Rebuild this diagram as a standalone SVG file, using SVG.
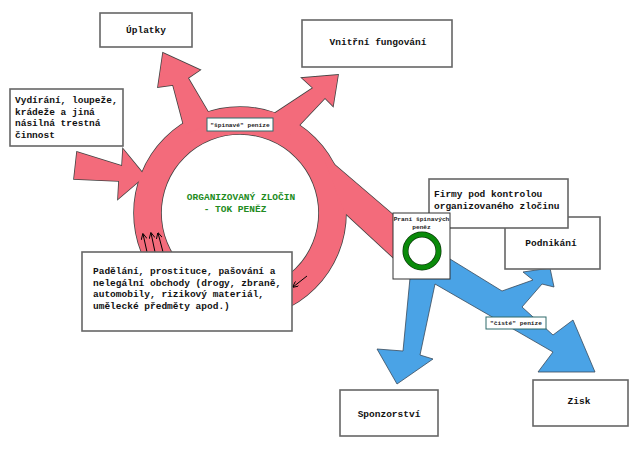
<svg xmlns="http://www.w3.org/2000/svg" xmlns:xlink="http://www.w3.org/1999/xlink" width="640" height="454" viewBox="0 0 640 454">
<style>
.bx{fill:#fff;stroke:#666;stroke-width:1.6}
.t{font-family:"Liberation Mono","DejaVu Sans Mono",monospace;font-weight:bold;font-size:9.5px;fill:#111}
.ts{font-family:"Liberation Mono","DejaVu Sans Mono",monospace;font-weight:bold;font-size:6.2px;fill:#222}
.tg{font-family:"Liberation Mono","DejaVu Sans Mono",monospace;font-weight:bold;font-size:9.5px;fill:#228b22}
.lb{fill:#fff;stroke:#2e6b6b;stroke-width:1}
.edge{stroke:#444;stroke-width:1.6}
.red{fill:#f36b7b}
.blue{fill:#4aa3e6;stroke:#3a4a5a;stroke-width:0.8}
.sa{stroke:#000;stroke-width:1;fill:none;marker-end:url(#ah)}
</style>
<defs>
<marker id="ah" viewBox="0 0 10 10" refX="9" refY="5" markerWidth="6" markerHeight="6" orient="auto-start-reverse" markerUnits="userSpaceOnUse">
<path d="M0,0 L10,5 L0,10" fill="none" stroke="#000" stroke-width="1.5"/>
</marker>
<path id="ring" fill-rule="evenodd" d="M134,213 a106,106 0 1,0 212,0 a106,106 0 1,0 -212,0 Z M161,213 a79,79 0 1,1 158,0 a79,79 0 1,1 -158,0 Z"/>
<polygon id="aUpl" points="186,134 173,85 158,87 163,53 200,70 188,78 214,122"/>
<polygon id="aVni" points="266,119 313,88 302,78 338,75 333,106 325,98 290,135"/>
<polygon id="aVyd" points="77,152 122,166 123,149 145,176 118,199 119,181 74,179"/>
<polygon id="aBand" points="322,154 398,219 398,262 345,213"/>
</defs>
<g id="connectors">
<g id="red-flow">
<use xlink:href="#ring" class="edge" fill="#444"/>
<use xlink:href="#aUpl" class="edge" fill="#444"/>
<use xlink:href="#aVni" class="edge" fill="#444"/>
<use xlink:href="#aVyd" class="edge" fill="#444"/>
<use xlink:href="#aBand" class="edge" fill="#444"/>
<use xlink:href="#ring" class="red"/>
<use xlink:href="#aUpl" class="red"/>
<use xlink:href="#aVni" class="red"/>
<use xlink:href="#aVyd" class="red"/>
<use xlink:href="#aBand" class="red"/>
</g>
<polygon id="blue-flow" class="blue" points="440,250 450,259 502,291 533,280 523,272 550,268 554,287 542,284 522,307 553,335 573,320 595,372 538,372 553,352 435,284 420,355 433,359 397,384 377,349 403,351 410,278 415,250"/>
<line class="sa" x1="147" y1="252" x2="143" y2="234"/>
<line class="sa" x1="155" y1="252" x2="151" y2="233"/>
<line class="sa" x1="163" y1="252" x2="158" y2="233"/>
<line class="sa" x1="307" y1="276" x2="293" y2="287"/>
</g>
<g id="label-spinave">
<rect class="lb" x="207" y="118" width="66" height="13"/>
<text class="ts" x="240" y="126.7" text-anchor="middle">"špinavé" peníze</text>
</g>
<g id="label-ciste">
<rect class="lb" x="486" y="317" width="60" height="12"/>
<text class="ts" x="516" y="325.3" text-anchor="middle">"čisté" peníze</text>
</g>
<g id="center-title">
<text class="tg" x="241" y="200" text-anchor="middle">ORGANIZOVANÝ ZLOČIN</text>
<text class="tg" x="235" y="212" text-anchor="middle">- TOK PENĚZ</text>
</g>
<g id="uplatky">
<rect class="bx" x="100" y="13" width="92" height="34"/>
<text class="t" x="146" y="33" text-anchor="middle">Úplatky</text>
</g>
<g id="vnitrni">
<rect class="bx" x="302" y="20" width="150" height="47"/>
<text class="t" x="378" y="45" text-anchor="middle">Vnitřní fungování</text>
</g>
<g id="vydirani">
<rect class="bx" x="10" y="89" width="113" height="57"/>
<text class="t" x="15" y="103">Vydírání, loupeže,</text>
<text class="t" x="15" y="114.5">krádeže a jiná</text>
<text class="t" x="15" y="126">násilná trestná</text>
<text class="t" x="15" y="137.5">činnost</text>
</g>
<g id="padelani">
<rect class="bx" x="82" y="252" width="210" height="79"/>
<text class="t" x="93" y="274">Padělání, prostituce, pašování a</text>
<text class="t" x="93" y="285.7">nelegální obchody (drogy, zbraně,</text>
<text class="t" x="93" y="297.4">automobily, rizikový materiál,</text>
<text class="t" x="93" y="309">umělecké předměty apod.)</text>
</g>
<g id="podnikani">
<rect class="bx" x="505" y="217" width="95" height="52"/>
<text class="t" x="551" y="246" text-anchor="middle">Podnikání</text>
</g>
<g id="firmy">
<rect class="bx" x="429" y="179" width="139" height="49"/>
<text class="t" x="434" y="197">Firmy pod kontrolou</text>
<text class="t" x="434" y="209">organizovaného zločinu</text>
</g>
<g id="prani">
<rect x="393" y="213" width="57" height="66" fill="#fff" stroke="#333" stroke-width="1"/>
<text class="ts" x="421.5" y="221" text-anchor="middle" font-size="5.9">Praní špinavých</text>
<text class="ts" x="421.5" y="229" text-anchor="middle" font-size="5.9">peněz</text>
<circle cx="422" cy="251" r="16.5" fill="none" stroke="#0a3a0a" stroke-width="6"/>
<circle cx="422" cy="251" r="16.5" fill="none" stroke="#0a8a0a" stroke-width="4.6"/>
</g>
<g id="sponzorstvi">
<rect class="bx" x="340" y="390" width="98" height="46"/>
<text class="t" x="389" y="417" text-anchor="middle">Sponzorství</text>
</g>
<g id="zisk">
<rect class="bx" x="533" y="380" width="95" height="46"/>
<text class="t" x="579" y="404" text-anchor="middle">Zisk</text>
</g>
</svg>
